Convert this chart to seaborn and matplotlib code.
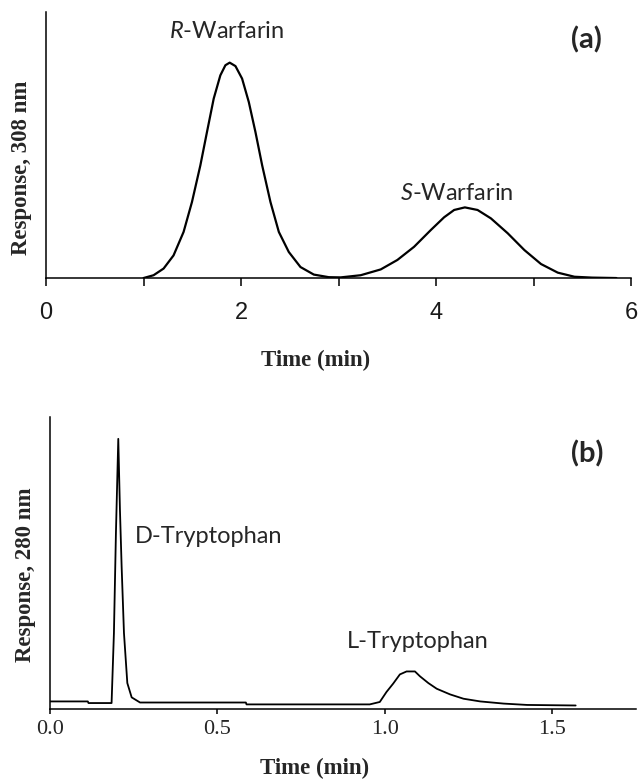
import matplotlib
matplotlib.use("Agg")
import matplotlib.pyplot as plt
import seaborn as sns
from matplotlib.ticker import FixedLocator, FormatStrFormatter

# Panel (a): warfarin enantiomers, response scaled so R peak = 100
time_a = [1.0, 1.103, 1.206, 1.308, 1.411, 1.497, 1.583, 1.651, 1.72, 1.788, 1.84,
          1.884, 1.943, 2.011, 2.08, 2.148, 2.217, 2.302, 2.388, 2.49, 2.61, 2.747,
          2.9, 3.022, 3.227, 3.433, 3.604, 3.775, 3.947, 4.083, 4.186, 4.296, 4.426,
          4.563, 4.735, 4.906, 5.077, 5.249, 5.42, 5.6, 5.85]
resp_a = [0.0, 1.3, 4.4, 10.5, 21.4, 35.3, 52.3, 67.8, 83.3, 94.1, 98.8,
          100.0, 98.4, 92.6, 81.7, 67.8, 52.3, 35.3, 21.4, 12.1, 5.1, 1.6,
          0.4, 0.3, 1.3, 4.0, 8.4, 14.5, 22.3, 28.2, 31.6, 32.8, 31.6,
          27.7, 20.8, 13.0, 6.5, 2.5, 0.6, 0.2, 0.0]

# Panel (b): tryptophan enantiomers, response scaled so D peak = 100
time_b = [0.0, 0.113, 0.115, 0.184, 0.191, 0.197, 0.204, 0.209, 0.214, 0.221, 0.231,
          0.244, 0.269, 0.585, 0.587, 0.955, 0.985, 1.005, 1.025, 1.045, 1.065, 1.09,
          1.105, 1.13, 1.155, 1.195, 1.235, 1.285, 1.355, 1.425, 1.57]
resp_b = [2.8, 2.8, 2.2, 2.2, 28.1, 65.2, 100.0, 73.7, 52.8, 28.1, 9.6,
          4.3, 2.4, 2.4, 1.7, 1.7, 2.6, 6.3, 9.4, 12.8, 13.9, 13.9,
          12.1, 9.6, 7.5, 5.4, 3.8, 2.8, 2.0, 1.5, 1.3]

# peak names, placed at (time, baseline height)
peak_labels_a = [r"$R$-Warfarin", r"$S$-Warfarin"]
peak_pos_a = [(1.855, 111.3), (4.21, 36.2)]
peak_labels_b = ["D-Tryptophan", "L-Tryptophan"]
peak_pos_b = [(0.473, 61.6), (1.099, 22.5)]

sns.set_style("ticks")
plt.rcParams["font.family"] = ["Liberation Sans", "DejaVu Sans"]
plt.rcParams["mathtext.fontset"] = "custom"
plt.rcParams["mathtext.it"] = "Lato:italic"
plt.rcParams["mathtext.rm"] = "Lato"

fig = plt.figure(figsize=(6.39, 7.81), dpi=100)
ax_a = fig.add_axes([0.072, 0.644, 0.9155, 0.3406])
ax_b = fig.add_axes([0.0782, 0.0922, 0.917, 0.3739])

serif_bold = dict(family="Liberation Serif", weight="bold", size=16.5)

# ---- panel (a)
sns.lineplot(x=time_a, y=resp_a, ax=ax_a, color="black", linewidth=1.6)
ax_a.set_xlim(0, 6)
ax_a.set_ylim(0, 123.5)
ax_a.set_yticks([])
ax_a.xaxis.set_major_locator(FixedLocator([0, 2, 4, 6]))
ax_a.xaxis.set_minor_locator(FixedLocator([1, 3, 5]))
ax_a.tick_params(axis="x", which="both", direction="out", length=5.4, width=1.1,
                 color="black", labelcolor="#1a1a1a", labelsize=17, pad=11.5)
ax_a.set_xlabel("Time (min)", fontdict=serif_bold, va="center")
ax_a.xaxis.set_label_coords(0.46, -0.308)
ax_a.set_ylabel("Response, 308 nm", fontdict=serif_bold, va="center")
ax_a.yaxis.set_label_coords(-0.042, 0.414)
for txt, (x, y) in zip(peak_labels_a, peak_pos_a):
    ax_a.text(x, y, txt, ha="center", va="baseline", family="Lato", fontsize=17)
ax_a.text(5.545, 106.6, "(a)", ha="center", va="baseline", family="Lato",
          weight="bold", fontsize=21)

# ---- panel (b)
sns.lineplot(x=time_b, y=resp_b, ax=ax_b, color="black", linewidth=1.3)
ax_b.set_xlim(0, 1.75)
ax_b.set_ylim(0, 108.1)
ax_b.set_yticks([])
ax_b.xaxis.set_major_locator(FixedLocator([0.0, 0.5, 1.0, 1.5]))
ax_b.xaxis.set_major_formatter(FormatStrFormatter("%.1f"))
ax_b.tick_params(axis="x", direction="out", length=3.6, width=1.1, color="black",
                 labelsize=16, pad=4.5)
for lab in ax_b.get_xticklabels():
    lab.set_family("Liberation Serif")
ax_b.set_xlabel("Time (min)", fontdict=serif_bold, va="center")
ax_b.xaxis.set_label_coords(0.452, -0.202)
ax_b.set_ylabel("Response, 280 nm", fontdict=serif_bold, va="center")
ax_b.yaxis.set_label_coords(-0.042, 0.459)
for txt, (x, y) in zip(peak_labels_b, peak_pos_b):
    ax_b.text(x, y, txt, ha="center", va="baseline", family="Lato", fontsize=17)
ax_b.text(1.606, 91.2, "(b)", ha="center", va="baseline", family="Lato",
          weight="bold", fontsize=21)

for ax in (ax_a, ax_b):
    sns.despine(ax=ax)
    for side in ("left", "bottom"):
        ax.spines[side].set_linewidth(1.1)
        ax.spines[side].set_color("black")

fig.savefig("out.png", dpi=100, facecolor="white")
